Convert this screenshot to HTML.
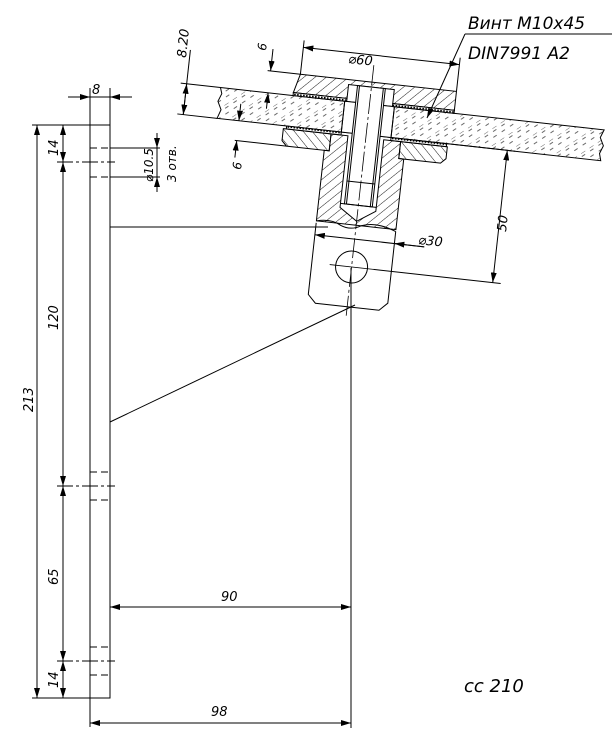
<!DOCTYPE html>
<html><head><meta charset="utf-8"><style>
html,body{margin:0;padding:0;background:#fff;}
svg{display:block;}
text{font-family:"DejaVu Sans","Liberation Sans",sans-serif;font-style:italic;fill:#000;}
</style></head><body>
<svg width="614" height="734" viewBox="0 0 614 734" xmlns="http://www.w3.org/2000/svg">
<defs>
<pattern id="metal" width="7" height="7" patternUnits="userSpaceOnUse" patternTransform="rotate(45)">
<line x1="0" y1="0" x2="0" y2="7" stroke="#000" stroke-width="0.9"/></pattern>
<pattern id="metal2" width="7" height="7" patternUnits="userSpaceOnUse" patternTransform="rotate(-45)">
<line x1="0" y1="0" x2="0" y2="7" stroke="#000" stroke-width="0.9"/></pattern>
<pattern id="glass" width="14" height="10" patternUnits="userSpaceOnUse" patternTransform="rotate(50)">
<line x1="0" y1="0" x2="0" y2="5" stroke="#444" stroke-width="0.8"/><line x1="3" y1="2" x2="3" y2="6" stroke="#444" stroke-width="0.8"/><line x1="8" y1="5" x2="8" y2="9" stroke="#444" stroke-width="0.8"/></pattern>
<pattern id="gask" width="3" height="3" patternUnits="userSpaceOnUse">
<rect width="3" height="3" fill="#fff"/><rect width="1.6" height="1.6" fill="#000"/></pattern>
<marker id="a" viewBox="0 0 10 6" refX="10" refY="3" markerWidth="10" markerHeight="6" orient="auto-start-reverse" markerUnits="userSpaceOnUse"><path d="M0,0 L10,3 L0,6 z" fill="#000"/></marker>
</defs>
<g stroke="#000" stroke-width="1" fill="none">
<!-- vertical bar -->
<rect x="90" y="125" width="20" height="573"/>
<!-- dashed holes -->
<g stroke-dasharray="7,4">
<line x1="90" y1="148" x2="110" y2="148"/><line x1="90" y1="177" x2="110" y2="177"/>
<line x1="90" y1="472" x2="110" y2="472"/><line x1="90" y1="500" x2="110" y2="500"/>
<line x1="90" y1="647" x2="110" y2="647"/><line x1="90" y1="675" x2="110" y2="675"/>
</g>
<g stroke-dasharray="16,3,3,3">
<line x1="57" y1="162" x2="115" y2="162"/><line x1="57" y1="486" x2="115" y2="486"/><line x1="57" y1="661" x2="115" y2="661"/>
</g>
<!-- ext lines -->
<line x1="32" y1="125" x2="90" y2="125"/><line x1="32" y1="698" x2="90" y2="698"/>
<line x1="90" y1="88" x2="90" y2="125"/><line x1="110" y1="88" x2="110" y2="125"/>
<line x1="90" y1="698" x2="90" y2="727"/>
<!-- left dims -->
<line x1="37" y1="125" x2="37" y2="698" marker-start="url(#a)" marker-end="url(#a)"/>
<line x1="63" y1="125" x2="63" y2="162" marker-start="url(#a)" marker-end="url(#a)"/>
<line x1="63" y1="162" x2="63" y2="486" marker-start="url(#a)" marker-end="url(#a)"/>
<line x1="63" y1="486" x2="63" y2="661" marker-start="url(#a)" marker-end="url(#a)"/>
<line x1="63" y1="661" x2="63" y2="698" marker-start="url(#a)" marker-end="url(#a)"/>
<!-- 8 dim -->
<line x1="68" y1="97" x2="90" y2="97" marker-end="url(#a)"/>
<line x1="132" y1="97" x2="110" y2="97" marker-end="url(#a)"/>
<line x1="90" y1="97" x2="110" y2="97"/>
<!-- phi10.5 -->
<line x1="110" y1="148" x2="160" y2="148"/><line x1="110" y1="177" x2="160" y2="177"/>
<line x1="157" y1="133" x2="157" y2="148" marker-end="url(#a)"/>
<line x1="157" y1="192" x2="157" y2="177" marker-end="url(#a)"/>
<line x1="157" y1="148" x2="157" y2="177"/>
<!-- horizontal and brace -->
<line x1="110" y1="227" x2="328" y2="227"/>
<line x1="110" y1="422" x2="355" y2="305"/>
<line x1="351" y1="268" x2="351" y2="728"/>
<line x1="110" y1="607" x2="351" y2="607" marker-start="url(#a)" marker-end="url(#a)"/>
<line x1="90" y1="723" x2="351" y2="723" marker-start="url(#a)" marker-end="url(#a)"/>

<!-- rotated assembly -->
<g transform="rotate(6.3 370 100)">
<path d="M220,104 L606,104 L603,112 L607,120 L604,128 L606,135 L220,135 L223,126 L219,118 L222,110 Z" fill="url(#glass)"/>
<!-- glass hole -->
<rect x="345" y="104" width="50" height="31" fill="#fff"/>
<line x1="345" y1="104" x2="345" y2="135"/><line x1="395" y1="104" x2="395" y2="135"/>
<!-- cap -->
<path d="M298,82 L455,82 L455,101 L393,101 L393,87 L347,87 L347,101 L293,101 Z" fill="url(#metal)"/>
<rect x="293" y="101" width="54" height="3" fill="url(#gask)"/>
<rect x="393" y="101" width="62" height="3" fill="url(#gask)"/>
<!-- gaskets under -->
<rect x="290" y="135" width="55" height="3" fill="url(#gask)"/>
<rect x="395" y="135" width="56" height="3" fill="url(#gask)"/>
<!-- washers -->
<path d="M287,138 L335,138 L335,155 L292,155 L287,150 Z" fill="url(#metal2)"/>
<path d="M405,138 L452,138 L452,150 L447,155 L405,155 Z" fill="url(#metal2)"/>
<!-- body -->
<path d="M335,138 L352,138 L352,210 L370,222 L388,210 L388,138 L405,138 L405,155 L410,155 L410,226 L330,226 L330,155 L335,155 Z" fill="url(#metal)"/>
<!-- bolt -->
<rect x="356" y="87" width="28" height="119" fill="#fff"/>
<line x1="356" y1="183" x2="384" y2="183"/><line x1="358" y1="87" x2="358" y2="206"/><line x1="382" y1="87" x2="382" y2="206"/>
<line x1="352" y1="206" x2="388" y2="206"/>
<path d="M330,226 Q345,222 355,228 Q365,232 375,226 Q390,220 410,228" />
<!-- lug -->
<path d="M330,228 L330,300 L338,308 L402,308 L410,300 L410,228"/>
<circle cx="370" cy="268" r="16"/>
<line x1="370" y1="65" x2="370" y2="318" stroke-dasharray="20,3,3,3" stroke-width="0.8"/>
<line x1="348" y1="268" x2="392" y2="268" stroke-width="0.8"/>
<!-- dims in local -->
<line x1="298" y1="82" x2="298" y2="48"/><line x1="455" y1="82" x2="455" y2="48"/>
<line x1="298" y1="55" x2="455" y2="55" marker-start="url(#a)" marker-end="url(#a)"/>
<line x1="330" y1="240" x2="440" y2="240" marker-start="url(#a)"/>
<line x1="410" y1="240" x2="440" y2="240" marker-start="url(#a)"/>
<line x1="410" y1="135" x2="520" y2="135"/>
<line x1="392" y1="268" x2="520" y2="268"/>
<line x1="512" y1="135" x2="512" y2="268" marker-start="url(#a)" marker-end="url(#a)"/>
<line x1="180" y1="104" x2="220" y2="104"/><line x1="180" y1="135" x2="220" y2="135"/>
<line x1="186" y1="70" x2="186" y2="135" />
<line x1="186" y1="104" x2="186" y2="135" marker-start="url(#a)" marker-end="url(#a)"/>
<line x1="265" y1="82" x2="298" y2="82"/>
<line x1="268" y1="60" x2="268" y2="82" marker-end="url(#a)"/>
<line x1="268" y1="120" x2="268" y2="104" marker-end="url(#a)"/>
<line x1="240" y1="155" x2="292" y2="155"/>
<line x1="242" y1="118" x2="242" y2="135" marker-end="url(#a)"/>
<line x1="242" y1="172" x2="242" y2="155" marker-end="url(#a)"/>
</g>
<!-- leader -->
<line x1="465" y1="34" x2="612" y2="34"/>
<line x1="465" y1="34" x2="427" y2="118" marker-end="url(#a)"/>
</g>
<!-- texts -->
<text x="92" y="94" font-size="13">8</text>
<text transform="translate(58,156) rotate(-90)" font-size="13">14</text>
<text transform="translate(58,330) rotate(-90)" font-size="13">120</text>
<text transform="translate(58,585) rotate(-90)" font-size="13">65</text>
<text transform="translate(58,688) rotate(-90)" font-size="13">14</text>
<text transform="translate(33,412) rotate(-90)" font-size="13">213</text>
<text transform="translate(153,182) rotate(-90)" font-size="12">⌀10.5</text>
<text transform="translate(176,182) rotate(-90)" font-size="12">3 отв.</text>
<text x="221" y="601" font-size="13">90</text>
<text x="211" y="716" font-size="13">98</text>
<text transform="translate(186,58) rotate(-84)" font-size="13">8.20</text>
<text transform="translate(266,51) rotate(-84)" font-size="12">6</text>
<text transform="translate(241,170) rotate(-84)" font-size="12">6</text>
<text transform="translate(348,63) rotate(6)" font-size="13">⌀60</text>
<text transform="translate(418,244) rotate(6)" font-size="13">⌀30</text>
<text transform="translate(506,232) rotate(-84)" font-size="13">50</text>
<text x="468" y="29" font-size="17">Винт M10x45</text>
<text x="468" y="59" font-size="17">DIN7991 A2</text>
<text x="464" y="692" font-size="18">cc 210</text>
</svg>
</body></html>
